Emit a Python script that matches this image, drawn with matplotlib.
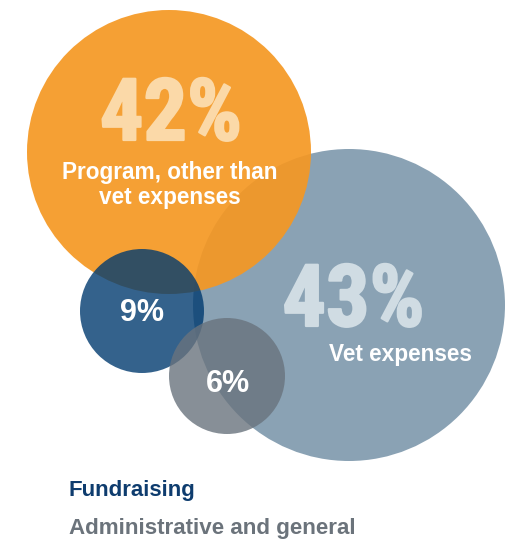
import matplotlib
matplotlib.use("Agg")
import matplotlib.pyplot as plt
from matplotlib.patches import Circle
from matplotlib import font_manager
from matplotlib.font_manager import FontProperties
import matplotlib.patheffects as pe

# ---- data ----
categories = ["Program, other than\nvet expenses", "Vet expenses", "Fundraising", "Administrative and general"]
shares = [42, 43, 9, 6]

# ---- layout (pixel space, y downwards) ----
centers = [(169, 152), (349, 305), (142, 311), (227, 376)]
radii = [142, 156, 62, 58]
fills = ["#F59823", "#8AA2B4", "#013B70", "#69737D"]
alphas = [0.92, 1.0, 0.8, 0.8]
zorders = [2, 1, 3, 4]

# pick a narrow bold font for the big numbers if one is installed
big_fp = None
big_size = 62
for key in ["RobotoCondensed-Bold", "LiberationSansNarrow-Bold."]:
    for f in font_manager.fontManager.ttflist:
        if key in f.fname.replace(" ", ""):
            big_fp = FontProperties(fname=f.fname)
            break
    if big_fp is not None:
        break
if big_fp is None:
    big_fp = FontProperties(family="Roboto", weight="bold")
    big_size = 57

bold = "Liberation Sans"

fig = plt.figure(figsize=(5.17, 5.41), dpi=100)
ax = fig.add_axes([0, 0, 1, 1])
ax.set_xlim(0, 517)
ax.set_ylim(541, 0)
ax.set_aspect("equal")
ax.axis("off")

for (cx, cy), r, c, a, z in zip(centers, radii, fills, alphas, zorders):
    ax.add_patch(Circle((cx, cy), r, facecolor=c, alpha=a, edgecolor="none", zorder=z))

# big percentages (translucent white look, rendered as flat tints)
for (x, y), val, tint in [((171, 140), shares[0], "#FBD9A8"), ((353.5, 326), shares[1], "#D0DCE3")]:
    ax.text(x, y, f"{val}%", fontproperties=big_fp, fontsize=big_size,
            color=tint, ha="center", va="baseline", zorder=10,
            path_effects=[pe.withStroke(linewidth=1.6, foreground=tint)])

# category labels inside circles
lines = categories[0].split("\n")
for i, ln in enumerate(lines):
    ax.text(170, 179 + 25 * i, ln, family=bold, weight="bold", fontsize=16.3,
            color="white", ha="center", va="baseline", zorder=10)
ax.text(400, 361, categories[1], family=bold, weight="bold", fontsize=16.3,
        color="white", ha="center", va="baseline", zorder=10)

# small percentages
ax.text(142, 321, f"{shares[2]}%", family=bold, weight="bold", fontsize=22,
        color="white", ha="center", va="baseline", zorder=10)
ax.text(228, 392, f"{shares[3]}%", family=bold, weight="bold", fontsize=22,
        color="white", ha="center", va="baseline", zorder=10)

# legend-like labels
ax.text(69, 496, categories[2], family=bold, weight="bold", fontsize=16,
        color="#0E3C6E", ha="left", va="baseline", zorder=10)
ax.text(69, 534, categories[3], family=bold, weight="bold", fontsize=16.1,
        color="#6B737B", ha="left", va="baseline", zorder=10)

fig.savefig("out.png", dpi=100, facecolor="white")
